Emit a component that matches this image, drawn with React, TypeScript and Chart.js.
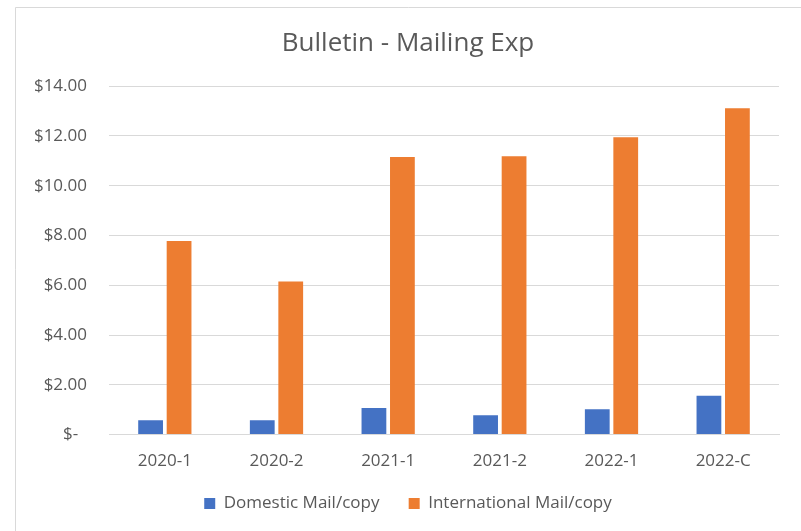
import React, { useEffect, useRef } from "react";
import { Chart, registerables } from "chart.js";

Chart.register(...registerables);

const categories = ["2020-1", "2020-2", "2021-1", "2021-2", "2022-1", "2022-C"];
const domestic = [0.58, 0.58, 1.07, 0.78, 1.02, 1.56];
const international = [7.78, 6.15, 11.15, 11.19, 11.95, 13.11];
const yTicks = [0, 2, 4, 6, 8, 10, 12, 14];

const FONT = "'Open Sans', 'Noto Sans', sans-serif";
const TEXT = "#595959";

const frame = {
  id: "frame",
  beforeDraw(chart: any) {
    const ctx = chart.ctx;
    ctx.save();
    ctx.fillStyle = "#ffffff";
    ctx.fillRect(0, 0, chart.width, chart.height);
    ctx.strokeStyle = "#d9d9d9";
    ctx.lineWidth = 1;
    ctx.beginPath();
    ctx.moveTo(15.5, chart.height);
    ctx.lineTo(15.5, 7.5);
    ctx.lineTo(chart.width, 7.5);
    ctx.stroke();
    ctx.restore();
  },
};

export default function App() {
  const ref = useRef<HTMLCanvasElement | null>(null);
  useEffect(() => {
    if (!ref.current) return;
    const chart = new Chart(ref.current, {
      type: "bar",
      data: {
        labels: categories,
        datasets: [
          {
            label: "Domestic Mail/copy",
            data: domestic,
            backgroundColor: "#4472C4",
            barPercentage: 0.87,
            categoryPercentage: 0.51,
          },
          {
            label: "International Mail/copy",
            data: international,
            backgroundColor: "#ED7D31",
            barPercentage: 0.87,
            categoryPercentage: 0.51,
          },
        ],
      },
      options: {
        animation: false,
        responsive: false,
        maintainAspectRatio: false,
        layout: { padding: { left: 15, right: 0, top: 0, bottom: 9 } },
        plugins: {
          title: {
            display: true,
            text: "Bulletin - Mailing Exp",
            color: TEXT,
            font: { family: FONT, size: 26, weight: "normal", lineHeight: 1.2 },
            padding: { top: 28, bottom: 27 },
          },
          legend: {
            position: "bottom",
            labels: {
              color: TEXT,
              font: { family: FONT, size: 17 },
              boxWidth: 11,
              boxHeight: 11,
              padding: 16,
              generateLabels: (chart: any) => {
                const items = Chart.defaults.plugins.legend.labels.generateLabels(chart);
                return items.map((it: any, i: number) =>
                  i < items.length - 1
                    ? { ...it, text: it.text + "\u00a0\u00a0\u00a0", lineWidth: 0 }
                    : { ...it, lineWidth: 0 }
                );
              },
            },
          },
          tooltip: { enabled: false },
        },
        scales: {
          x: {
            grid: { display: false },
            border: { display: true, color: "#d9d9d9", width: 1 },
            ticks: {
              color: TEXT,
              font: { family: FONT, size: 17 },
              padding: 8,
              maxRotation: 0,
            },
          },
          y: {
            min: 0,
            max: 14,
            afterFit: (s: any) => {
              s.width = 94;
            },
            afterBuildTicks: (s: any) => {
              s.ticks = yTicks.map((v) => ({ value: v }));
            },
            grid: { color: "#d9d9d9", drawTicks: false },
            border: { display: false },
            ticks: {
              color: TEXT,
              font: { family: FONT, size: 17 },
              padding: 22,
              callback: (v: any) =>
                Number(v) === 0 ? "$-\u00a0\u00a0" : "$" + Number(v).toFixed(2),
            },
          },
          y2: {
            position: "right",
            display: true,
            afterFit: (s: any) => {
              s.width = 22;
            },
            grid: { display: false, drawTicks: false },
            border: { display: false },
            ticks: { display: false },
          },
        },
      },
      plugins: [frame],
    });
    return () => chart.destroy();
  }, []);
  return (
    <div style={{ position: "fixed", left: 0, top: 0, width: 801, height: 531 }}>
      <canvas ref={ref} width={801} height={531} style={{ width: 801, height: 531 }} />
    </div>
  );
}
